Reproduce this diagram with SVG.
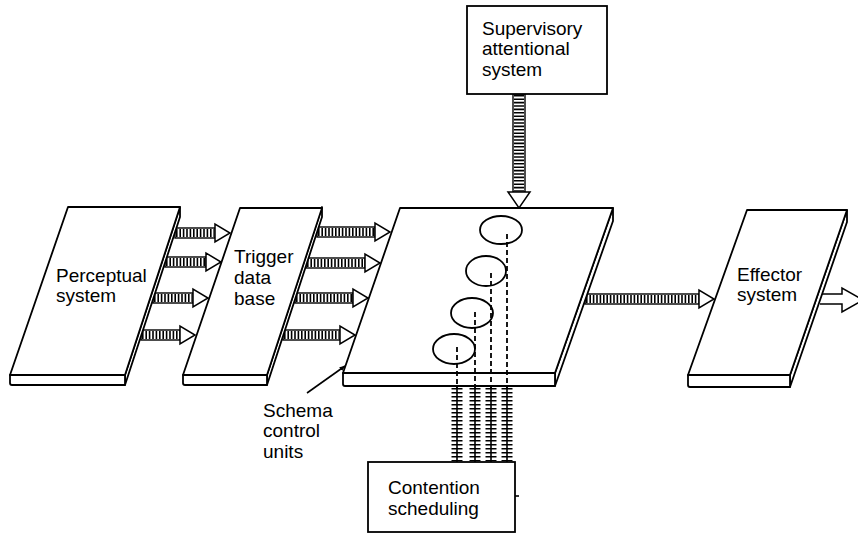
<svg xmlns="http://www.w3.org/2000/svg" width="858" height="534" viewBox="0 0 858 534">
<defs>
<style>
.slab{fill:#fff;stroke:#000;stroke-width:1.8;stroke-linejoin:round}
.box{fill:#fff;stroke:#000;stroke-width:1.8}
.lbl{font-family:"Liberation Sans",Arial,sans-serif;font-size:19px;fill:#000}
.rail{fill:#fff;stroke:#000;stroke-width:1.4}
.rung{stroke:#000;stroke-width:8;stroke-dasharray:1.6 1.8;fill:none}
.vrung{stroke:#000;stroke-width:10;stroke-dasharray:1.6 1.8;fill:none}
.head{fill:#fff;stroke:#000;stroke-width:1.5;stroke-linejoin:miter}
.ell{fill:#fff;stroke:#000;stroke-width:1.8}
.dash{stroke:#000;stroke-width:1.8;stroke-dasharray:5 3;fill:none}
.track{stroke:#000;stroke-width:1.6;fill:none}
.ties{stroke:#000;stroke-width:11;stroke-dasharray:1.4 2.6;fill:none}
.thin{stroke:#000;stroke-width:1.6;fill:none}
</style>
<marker id="ptr" viewBox="0 0 10 10" refX="9" refY="5" markerWidth="6" markerHeight="6" orient="auto" markerUnits="userSpaceOnUse">
<path d="M0,1 L10,5 L0,9 Z" fill="#000"/>
</marker>
</defs>
<rect width="858" height="534" fill="#fff"/>

<g id="connectors">
<!-- Perceptual -> Trigger -->
<g>
<rect class="rail" x="175" y="228" width="40" height="10"/><line class="rung" x1="176" y1="233" x2="214" y2="233"/>
<polygon class="head" points="215,228 215,224 230,233 215,242 215,238"/>
<rect class="rail" x="165" y="257" width="41" height="10"/><line class="rung" x1="166" y1="262" x2="205" y2="262"/>
<polygon class="head" points="206,257 206,253 221,262 206,271 206,267"/>
<rect class="rail" x="153" y="293" width="40" height="10"/><line class="rung" x1="154" y1="298" x2="192" y2="298"/>
<polygon class="head" points="193,293 193,289 208,298 193,307 193,303"/>
<rect class="rail" x="141" y="330" width="39" height="10"/><line class="rung" x1="142" y1="335" x2="179" y2="335"/>
<polygon class="head" points="180,330 180,326 195,335 180,344 180,340"/>
</g>
<!-- Trigger -> Schema slab -->
<g>
<rect class="rail" x="317" y="227" width="58" height="10"/><line class="rung" x1="318" y1="232" x2="374" y2="232"/>
<polygon class="head" points="375,227 375,223 390,232 375,241 375,237"/>
<rect class="rail" x="306" y="258" width="59" height="10"/><line class="rung" x1="307" y1="263" x2="364" y2="263"/>
<polygon class="head" points="365,258 365,254 380,263 365,272 365,268"/>
<rect class="rail" x="295" y="293" width="58" height="10"/><line class="rung" x1="296" y1="298" x2="352" y2="298"/>
<polygon class="head" points="353,293 353,289 368,298 353,307 353,303"/>
<rect class="rail" x="283" y="330" width="57" height="10"/><line class="rung" x1="284" y1="335" x2="339" y2="335"/>
<polygon class="head" points="340,330 340,326 355,335 340,344 340,340"/>
</g>
<!-- Schema slab -> Effector -->
<g>
<rect class="rail" x="585" y="294" width="114" height="10"/><line class="rung" x1="586" y1="299" x2="698" y2="299"/>
<polygon class="head" points="699,294 699,290 714,299 699,308 699,304"/>
</g>
<!-- Supervisory -> Schema slab -->
<g>
<rect class="rail" x="513" y="94" width="12" height="98"/><line class="vrung" x1="519" y1="95" x2="519" y2="191"/>
<polygon class="head" points="513,192 508,192 519,208 530,192 525,192"/>
</g>
<!-- Effector output -->
<path class="head" d="M820,294 H842 V288 L863,300 L842,312 V304 H820"/>
<!-- Schema units to contention scheduling -->
<g>
<line class="track" x1="457" y1="386" x2="457" y2="462"/><line class="ties" x1="457" y1="388" x2="457" y2="461"/>
<line class="track" x1="475" y1="386" x2="475" y2="462"/><line class="ties" x1="475" y1="388" x2="475" y2="461"/>
<line class="track" x1="491" y1="386" x2="491" y2="462"/><line class="ties" x1="491" y1="388" x2="491" y2="461"/>
<line class="track" x1="507" y1="386" x2="507" y2="462"/><line class="ties" x1="507" y1="388" x2="507" y2="461"/>
</g>
<!-- pointer for schema control units label -->
<line class="thin" x1="307" y1="393" x2="345" y2="366" marker-end="url(#ptr)"/>
</g>

<g id="perceptual">
<path class="slab" d="M125,375 L180,207 L180,217 L125,385 Z"/>
<path class="slab" d="M10,375 H125 V385 H12 Q10,385 10,383 Z"/>
<path class="slab" d="M68,207 H180 L125,375 H10 Z"/>
<text class="lbl" x="56" y="282">Perceptual</text>
<text class="lbl" x="56" y="302">system</text>
</g>

<g id="trigger">
<path class="slab" d="M267,375 L322,207 L322,217 L267,385 Z"/>
<path class="slab" d="M183,375 H267 V385 H185 Q183,385 183,383 Z"/>
<path class="slab" d="M240,208 H322 L267,375 H183 Z"/>
<text class="lbl" x="234" y="263">Trigger</text>
<text class="lbl" x="234" y="284">data</text>
<text class="lbl" x="234" y="305">base</text>
</g>

<g id="schema-units">
<path class="slab" d="M555,373 L613,208 L613,221 L555,386 Z"/>
<path class="slab" d="M343,373 H555 V386 H345 Q343,386 343,384 Z"/>
<path class="slab" d="M400,208 H613 L555,373 H343 Z"/>
<ellipse class="ell" cx="501" cy="230" rx="21" ry="14"/>
<ellipse class="ell" cx="486" cy="271" rx="20" ry="15"/>
<ellipse class="ell" cx="472" cy="313" rx="21" ry="15"/>
<ellipse class="ell" cx="454" cy="349" rx="21" ry="15"/>
<line class="dash" x1="507" y1="234" x2="507" y2="388"/>
<line class="dash" x1="491" y1="273" x2="491" y2="388"/>
<line class="dash" x1="475" y1="312" x2="475" y2="388"/>
<line class="dash" x1="457" y1="347" x2="457" y2="388"/>
</g>

<g id="effector">
<path class="slab" d="M790,375 L847,210 L847,222 L790,387 Z"/>
<path class="slab" d="M688,375 H790 V387 H690 Q688,387 688,385 Z"/>
<path class="slab" d="M747,210 H847 L790,375 H688 Z"/>
<text class="lbl" x="737" y="281">Effector</text>
<text class="lbl" x="737" y="301">system</text>
</g>

<g id="supervisory">
<rect class="box" x="467" y="6" width="140" height="88"/>
<text class="lbl" x="482" y="35">Supervisory</text>
<text class="lbl" x="482" y="55">attentional</text>
<text class="lbl" x="482" y="76">system</text>
</g>

<g id="contention">
<rect class="box" x="368" y="462" width="147" height="70"/>
<line class="thin" x1="515" y1="496" x2="519" y2="496"/>
<text class="lbl" x="388" y="494">Contention</text>
<text class="lbl" x="388" y="515">scheduling</text>
</g>

<g id="schema-label">
<text class="lbl" x="263" y="417">Schema</text>
<text class="lbl" x="263" y="437">control</text>
<text class="lbl" x="263" y="458">units</text>
</g>
</svg>
